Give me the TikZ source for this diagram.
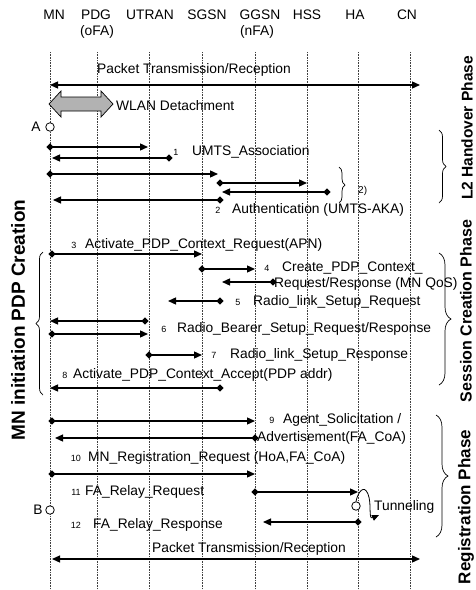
\documentclass[tikz,border=0pt]{standalone}
\usepackage{fontspec}
\setmainfont{Liberation Sans}
\usetikzlibrary{arrows.meta,shapes.geometric,decorations.pathreplacing}
\begin{document}
\begin{tikzpicture}[x=1pt,y=-1pt,
  txt/.style={font=\fontsize{13.8}{16}\selectfont, inner sep=0pt, anchor=west},
  num/.style={font=\fontsize{9}{10}\selectfont, inner sep=0pt},
  hdr/.style={font=\fontsize{13.8}{16}\selectfont, inner sep=0pt},
  life/.style={line width=0.5pt, black!75, dash pattern=on 0.8pt off 0.8pt},
  msg/.style={line width=1.3pt, -{Triangle[length=8pt,width=7pt]}},
  dmd/.style={diamond, fill=black, inner sep=0pt, minimum size=7.5pt},
  pkt/.style={line width=1.3pt, {Triangle[length=8pt,width=7pt]}-{Triangle[length=8pt,width=7pt]}},
  circ/.style={circle, draw, line width=0.8pt, fill=white, minimum size=8.5pt, inner sep=0pt},
  brc/.style={decorate, decoration={brace, amplitude=7pt}, line width=0.7pt},
  phase/.style={font=\fontsize{15.5}{18}\selectfont\bfseries, rotate=90, inner sep=0pt},
]
\useasboundingbox (0,0) rectangle (476,590);

% headers
\node[hdr] (hMN) at (54,15) {MN};
\node[hdr] (hPDG) at (96,15) {PDG};
\node[hdr] (hPDGb) at (97,32) {(oFA)};
\node[hdr] (hUTRAN) at (150,15) {UTRAN};
\node[hdr] (hSGSN) at (207,15) {SGSN};
\node[hdr] (hGGSN) at (260,15) {GGSN};
\node[hdr] (hGGSNb) at (257,32) {(nFA)};
\node[hdr] (hHSS) at (307,15) {HSS};
\node[hdr] (hHA) at (355,15) {HA};
\node[hdr] (hCN) at (407,15) {CN};

% lifelines
\foreach \n/\x in {MN/50,PDG/97,UTRAN/149,SGSN/202,GGSN/255,HSS/307,HA/358,CN/410}{
  \coordinate (t\n) at (\x,52);
  \coordinate (b\n) at (\x,590);
  \draw[life] (t\n) -- (b\n);
}

% top packet transmission
\coordinate (p1l) at (50,85);
\coordinate (p1r) at (420,85);
\draw[pkt] (p1l) -- (p1r);
\node[txt] (p1t) at (97,70) {Packet Transmission/Reception};

% WLAN detachment
\filldraw[fill=gray!60, line width=0.7pt] (49,104) -- (61,91) -- (61,97) -- (101,97) -- (101,91) -- (113,104) -- (101,117) -- (101,111) -- (61,111) -- (61,117) -- cycle;
\node[txt] (wlan) at (116,106) {WLAN Detachment};

% A
\node[circ] (A) at (50,127) {};
\node[hdr] (Al) at (36,127) {A};

% 1 UMTS association
\node[dmd] (d1a) at (50,147) {};
\coordinate (e1a) at (148,147);
\draw[msg] (d1a.center) -- (e1a);
\node[dmd] (d1b) at (169,158) {};
\coordinate (e1b) at (52,158);
\draw[msg] (d1b.center) -- (e1b);
\node[num] (n1) at (176,152) {1};
\node[txt] (l1) at (192,152) {UMTS\_Association};

% 2 authentication
\node[dmd] (d2a) at (50,174) {};
\coordinate (e2a) at (218,174);
\draw[msg] (d2a.center) -- (e2a);
\node[dmd] (d2b) at (220,183) {};
\coordinate (e2b) at (307,183);
\draw[msg] (d2b.center) -- (e2b);
\node[dmd] (d2c) at (327,192) {};
\coordinate (e2c) at (222,192);
\draw[msg] (d2c.center) -- (e2c);
\node[dmd] (d2d) at (220,200) {};
\coordinate (e2d) at (53,200);
\draw[msg] (d2d.center) -- (e2d);
\draw[brc, decoration={amplitude=6pt}] (339,167) -- (339,203);
\node[txt, font=\fontsize{10}{12}\selectfont] (l2b) at (358,191) {2)};
\node[num] (n2) at (218,210) {2};
\node[txt] (l2) at (232,210) {Authentication (UMTS-AKA)};

% 3
\node[num] (n3) at (74,245) {3};
\node[txt] (l3) at (85,245) {Activate\_PDP\_Context\_Request(APN)};
\node[dmd] (d3) at (52,254) {};
\coordinate (e3) at (202,254);
\draw[msg] (d3.center) -- (e3);

% 4
\node[dmd] (d4a) at (202,269) {};
\coordinate (e4a) at (255,269);
\draw[msg] (d4a.center) -- (e4a);
\node[dmd] (d4b) at (273,282) {};
\coordinate (e4b) at (222,282);
\draw[msg] (d4b.center) -- (e4b);
\node[num] (n4) at (267,268) {4};
\node[txt] (l4a) at (282,268) {Create\_PDP\_Context\_};
\node[txt] (l4b) at (274,284) {Request/Response (MN QoS)};

% 5
\node[dmd] (d5) at (220,301) {};
\coordinate (e5) at (168,301);
\draw[msg] (d5.center) -- (e5);
\node[num] (n5) at (238,302) {5};
\node[txt] (l5) at (253,302) {Radio\_link\_Setup\_Request};

% 6
\node[dmd] (d6a) at (145,321) {};
\coordinate (e6a) at (50,321);
\draw[msg] (d6a.center) -- (e6a);
\node[dmd] (d6b) at (52,334) {};
\coordinate (e6b) at (148,334);
\draw[msg] (d6b.center) -- (e6b);
\node[num] (n6) at (164,329) {6};
\node[txt] (l6) at (177,329) {Radio\_Bearer\_Setup\_Request/Response};

% 7
\node[dmd] (d7) at (149,355) {};
\coordinate (e7) at (202,355);
\draw[msg] (d7.center) -- (e7);
\node[num] (n7) at (214,355) {7};
\node[txt] (l7) at (230,355) {Radio\_link\_Setup\_Response};

% 8
\node[num] (n8) at (65,375) {8};
\node[txt] (l8) at (73,375) {Activate\_PDP\_Context\_Accept(PDP addr)};
\node[dmd] (d8) at (220,388) {};
\coordinate (e8) at (50,388);
\draw[msg] (d8.center) -- (e8);

% 9
\node[dmd] (d9a) at (52,421) {};
\coordinate (e9a) at (255,421);
\draw[msg] (d9a.center) -- (e9a);
\node[dmd] (d9b) at (255,438) {};
\coordinate (e9b) at (55,438);
\draw[msg] (d9b.center) -- (e9b);
\node[num] (n9) at (272,420) {9};
\node[txt] (l9a) at (283,420) {Agent\_Solicitation /};
\node[txt] (l9b) at (257,438) {Advertisement(FA\_CoA)};

% 10
\node[num] (n10) at (76,458) {10};
\node[txt] (l10) at (88,458) {MN\_Registration\_Request (HoA,FA\_CoA)};
\node[dmd] (d10) at (52,474) {};
\coordinate (e10) at (255,474);
\draw[msg] (d10.center) -- (e10);

% 11
\node[num] (n11) at (76,492) {11};
\node[txt] (l11) at (85,492) {FA\_Relay\_Request};
\node[dmd] (d11) at (255,492) {};
\coordinate (e11) at (358,492);
\draw[msg] (d11.center) -- (e11);

% B
\node[circ] (B) at (50,510) {};
\node[hdr] (Bl) at (38,510) {B};

% HA tunneling
\node[circ] (HAc) at (356,506) {};
\coordinate (tun) at (379,515);
\draw[line width=0.8pt, -{Triangle[length=7pt,width=6pt]}] (HAc.north) .. controls (358,492) and (364,484) .. (368,494) .. controls (372,504) and (368,520) .. (tun);
\node[txt] (ltun) at (374,507) {Tunneling};

% 12
\node[num] (n12) at (76,525) {12};
\node[txt] (l12) at (93,525) {FA\_Relay\_Response};
\node[dmd] (d12) at (358,522) {};
\coordinate (e12) at (263,522);
\draw[msg] (d12.center) -- (e12);

% bottom packet
\coordinate (p2l) at (52,559);
\coordinate (p2r) at (420,559);
\draw[pkt] (p2l) -- (p2r);
\node[txt] (p2t) at (152,549) {Packet Transmission/Reception};

% braces right
\draw[brc] (439,130) -- (439,203);
\draw[brc, decoration={amplitude=12pt}] (439,253) -- (439,385);
\draw[brc, decoration={amplitude=12pt}] (436,415) -- (436,537);
% left brace
\draw[brc, decoration={amplitude=7pt}] (43,395) -- (43,252);

% phase labels
\node[phase] (ph1) at (467,128) {L2 Handover Phase};
\node[phase, font=\fontsize{16}{18}\selectfont\bfseries] (ph2) at (466,311) {Session Creation Phase};
\node[phase, font=\fontsize{17}{18}\selectfont\bfseries] (ph3) at (466,507) {Registration Phase};
\node[phase, font=\fontsize{19}{20}\selectfont\bfseries] (ph4) at (18,320) {MN initiation PDP Creation};
\end{tikzpicture}
\end{document}
